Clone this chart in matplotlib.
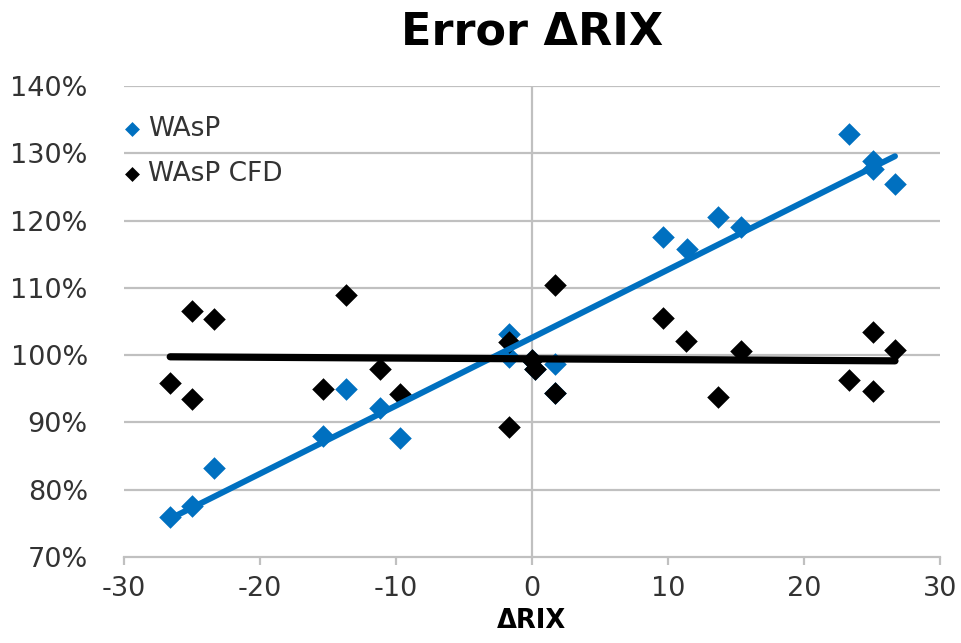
import numpy as np
import matplotlib
matplotlib.use("Agg")
import matplotlib.pyplot as plt

# data (delta RIX vs error in %)
# a few WAsP points sit right under CFD diamonds (x = 0 and 1.7)
wasp_x = [-26.6, -25.0, -23.4, -15.4, -13.7, -11.2, -9.7, -1.7, -1.7, 0.0, 0.2,
          1.7, 1.7, 9.65, 11.4, 13.7, 15.4, 23.3, 25.1, 25.1, 26.7]
wasp_y = [75.9, 77.5, 83.2, 88.0, 95.0, 92.1, 87.6, 103.1, 99.7, 99.2, 98.0,
          98.7, 94.4, 117.5, 115.8, 120.5, 119.0, 132.9, 128.9, 127.7, 125.4]

cfd_x = [-26.6, -25.0, -25.0, -23.4, -15.4, -13.7, -11.2, -9.7, -1.7, -1.7,
         0.0, 0.2, 1.7, 1.7, 9.65, 11.3, 13.7, 15.4, 23.3, 25.05, 25.1, 26.7]
cfd_y = [95.9, 106.6, 93.4, 105.4, 95.0, 108.9, 98.0, 94.2, 101.9, 89.3,
         99.2, 98.0, 110.5, 94.4, 105.5, 102.1, 93.8, 100.6, 96.3, 94.6, 103.5, 100.8]

x_ticks = [-30, -20, -10, 0, 10, 20, 30]
y_ticks = [70, 80, 90, 100, 110, 120, 130, 140]

blue = '#0070C0'
grid_col = '#C0C0C0'
txt_col = '#333333'

fig = plt.figure(figsize=(9.61, 6.43), dpi=100)
ax = fig.add_axes([0.129, 0.134, 0.849, 0.732])

ax.scatter(wasp_x, wasp_y, marker='D', s=11.5**2, color=blue, zorder=3, label='WAsP', linewidths=0)
ax.scatter(cfd_x, cfd_y, marker='D', s=11.5**2, color='black', zorder=3, label='WAsP CFD', linewidths=0)

# linear trend lines
for xs, ys, c, lw in [(wasp_x, wasp_y, blue, 4.3), (cfd_x, cfd_y, 'black', 5.2)]:
    k, d = np.polyfit(xs, ys, 1)
    xx = np.array([min(xs), max(xs)])
    ax.plot(xx, k * xx + d, color=c, linewidth=lw, zorder=4, solid_capstyle='round')

ax.set_xlim(-30, 30)
ax.set_ylim(70, 140)
ax.set_xticks(x_ticks)
ax.set_yticks(y_ticks)
ax.set_xticklabels([str(t) for t in x_ticks])
ax.set_yticklabels([f"{t}%" for t in y_ticks])

for t in y_ticks[1:]:
    ax.axhline(t, color=grid_col, linewidth=1.6, zorder=1)
ax.axvline(0, color=grid_col, linewidth=1.6, zorder=1)

for s in ['top', 'right', 'left']:
    ax.spines[s].set_visible(False)
ax.spines['bottom'].set_color(grid_col)
ax.spines['bottom'].set_linewidth(1.6)
ax.tick_params(axis='x', direction='out', length=6, width=1.6, color=grid_col,
               labelsize=19.5, pad=8, labelcolor=txt_col)
ax.tick_params(axis='y', length=0, labelsize=19.5, pad=26, labelcolor=txt_col)

ax.set_title('Error ΔRIX', fontsize=32, fontweight='bold', pad=30)
ax.set_xlabel('ΔRIX', fontsize=18.5, fontweight='bold', labelpad=4)

leg = ax.legend(loc='upper left', frameon=False, fontsize=19, markerscale=0.66,
                handletextpad=0.3, labelspacing=0.7, borderaxespad=0.0, borderpad=0.0,
                bbox_to_anchor=(0.0, 0.936), handlelength=0.6)
for t in leg.get_texts():
    t.set_color(txt_col)

fig.savefig('out.png', dpi=100)
